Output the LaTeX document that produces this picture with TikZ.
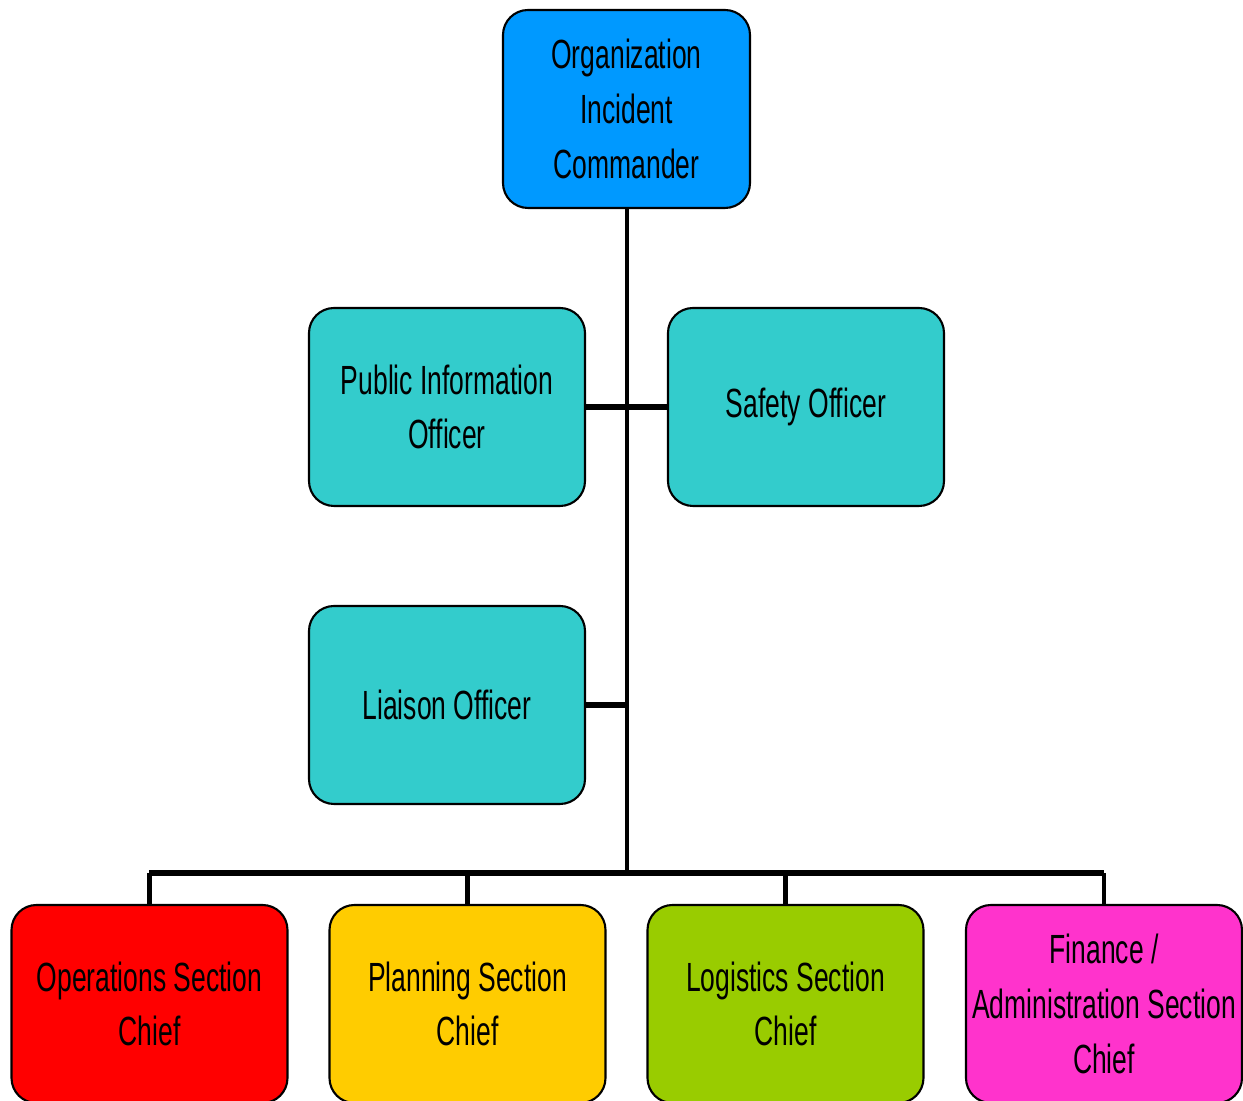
\documentclass[tikz,border=0pt]{standalone}
\usepackage{fontspec}
\newfontfamily\narrowfont[FakeStretch=0.65]{Liberation Sans}
\definecolor{icblue}{HTML}{0099FF}
\definecolor{staffteal}{HTML}{33CCCC}
\definecolor{opsred}{HTML}{FF0000}
\definecolor{planyellow}{HTML}{FFCC00}
\definecolor{loggreen}{HTML}{99CC00}
\definecolor{finpink}{HTML}{FF33CC}
\begin{document}
\begin{tikzpicture}[boxstyle/.style={rectangle,rounded corners=0.25cm,draw=black,line width=0.6pt,minimum width=2.76cm,minimum height=1.98cm,inner sep=0,align=center,font={\narrowfont\fontsize{11.6}{15.6}\selectfont}},
trunkline/.style={line width=1.15pt},
barline/.style={line width=1.8pt}]

\useasboundingbox (0,0) rectangle (12.43,-11.01);
\clip (0,0) rectangle (12.43,-11.01);

\node[boxstyle,fill=icblue,minimum width=2.47cm] (ic) at (6.265,-1.09) {Organization\\Incident\\Commander};

\node[boxstyle,fill=staffteal] (pio) at (4.47,-4.07) {Public Information\\Officer};
\node[boxstyle,fill=staffteal] (safety) at (8.06,-4.07) {Safety Officer};
\node[boxstyle,fill=staffteal] (liaison) at (4.47,-7.05) {Liaison Officer};

\node[boxstyle,fill=opsred] (ops) at (1.495,-10.04) {Operations Section\\Chief};
\node[boxstyle,fill=planyellow] (plan) at (4.675,-10.04) {Planning Section\\Chief};
\node[boxstyle,fill=loggreen] (log) at (7.855,-10.04) {Logistics Section\\Chief};
\node[boxstyle,fill=finpink] (fin) at (11.04,-10.04) {Finance /\\Administration Section\\Chief};

\coordinate (bus) at (6.27,-8.73);

\draw[trunkline] (ic.south -| bus) -- (bus);
\draw[barline] (pio.east) -- (safety.west);
\draw[barline] (liaison.east) -- (liaison.east -| bus);
\draw[barline] (ops.north |- bus) -- (fin.north |- bus);
\draw[trunkline] (ops.north) -- (ops.north |- bus);
\draw[trunkline] (plan.north) -- (plan.north |- bus);
\draw[trunkline] (log.north) -- (log.north |- bus);
\draw[trunkline] (fin.north) -- (fin.north |- bus);

\end{tikzpicture}
\end{document}
